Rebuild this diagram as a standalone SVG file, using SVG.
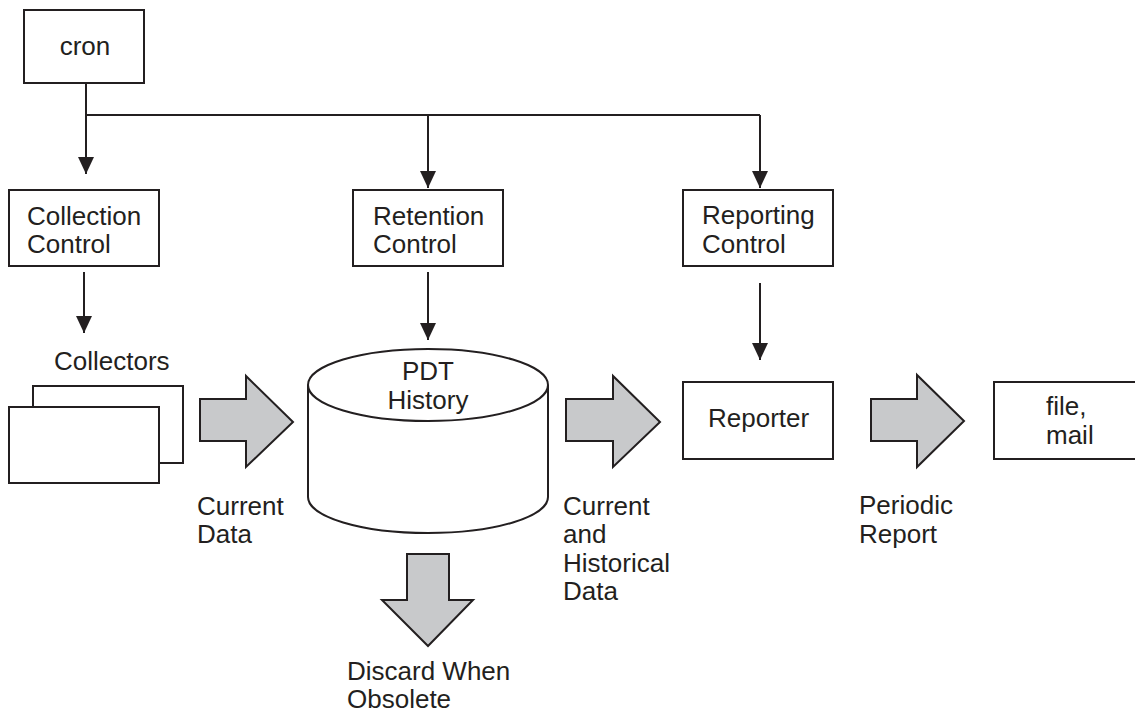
<svg xmlns="http://www.w3.org/2000/svg" width="1135" height="715" viewBox="0 0 1135 715">
<style>
.box{fill:#fff;stroke:#231f20;stroke-width:2}
.line{fill:none;stroke:#231f20;stroke-width:2}
.big{fill:#c8c9cb;stroke:#231f20;stroke-width:2;stroke-linejoin:miter}
text{font-family:"Liberation Sans",Arial,sans-serif;font-size:26px;fill:#231f20}
.c{text-anchor:middle}
</style>
<defs>
<marker id="ah" markerUnits="userSpaceOnUse" markerWidth="18" markerHeight="18" viewBox="0 0 18 18" refX="17" refY="9" orient="auto">
<path d="M0,1 L17,9 L0,17 Z" fill="#231f20"/>
</marker>
</defs>
<rect width="1135" height="715" fill="#fff"/>
<g id="connectors">
<path class="line" d="M86,83 V115 H760"/>
<path class="line" d="M86,115 V174" marker-end="url(#ah)"/>
<path class="line" d="M428,115 V188" marker-end="url(#ah)"/>
<path class="line" d="M760,115 V188" marker-end="url(#ah)"/>
<path class="line" d="M84,272 V333" marker-end="url(#ah)"/>
<path class="line" d="M428,272 V340" marker-end="url(#ah)"/>
<path class="line" d="M760,283 V360" marker-end="url(#ah)"/>
</g>
<g id="cron">
<rect class="box" x="24" y="10" width="120" height="73"/>
<text class="c" x="85" y="55">cron</text>
</g>
<g id="collection-control">
<rect class="box" x="9" y="190" width="150" height="76"/>
<text x="27" y="225">Collection</text>
<text x="27" y="253">Control</text>
</g>
<g id="retention-control">
<rect class="box" x="353" y="190" width="150" height="76"/>
<text x="373" y="225">Retention</text>
<text x="373" y="253">Control</text>
</g>
<g id="reporting-control">
<rect class="box" x="683" y="190" width="150" height="76"/>
<text x="702" y="224">Reporting</text>
<text x="702" y="253">Control</text>
</g>
<g id="collectors">
<text x="54" y="370">Collectors</text>
<rect class="box" x="33" y="386" width="150" height="77"/>
<rect class="box" x="9" y="407" width="150" height="76"/>
</g>
<g id="current-data">
<path class="big" d="M200,399 H246 V376 L293,422 L246,467 V441 H200 Z"/>
<text x="197" y="515">Current</text>
<text x="197" y="543">Data</text>
</g>
<g id="pdt-history">
<path class="box" d="M308,385 V497 A120,36 0 0 0 548,497 V385"/>
<ellipse class="box" cx="428" cy="385" rx="120" ry="36"/>
<text class="c" x="428" y="380">PDT</text>
<text class="c" x="428" y="409">History</text>
</g>
<g id="current-historical">
<path class="big" d="M566,399 H613 V376 L660,422 L613,467 V441 H566 Z"/>
<text x="563" y="515">Current</text>
<text x="563" y="543">and</text>
<text x="563" y="572">Historical</text>
<text x="563" y="600">Data</text>
</g>
<g id="discard">
<path class="big" d="M407,554 H449 V600 H473 L428,646 L382,600 H407 Z"/>
<text x="347" y="680">Discard When</text>
<text x="347" y="708">Obsolete</text>
</g>
<g id="reporter">
<rect class="box" x="683" y="382" width="150" height="77"/>
<text x="708" y="427">Reporter</text>
</g>
<g id="periodic-report">
<path class="big" d="M871,399 H917 V375 L964,421 L917,467 V441 H871 Z"/>
<text x="859" y="514">Periodic</text>
<text x="859" y="543">Report</text>
</g>
<g id="file-mail">
<rect class="box" x="994" y="382" width="150" height="77"/>
<text x="1046" y="415">file,</text>
<text x="1046" y="444">mail</text>
</g>
</svg>
